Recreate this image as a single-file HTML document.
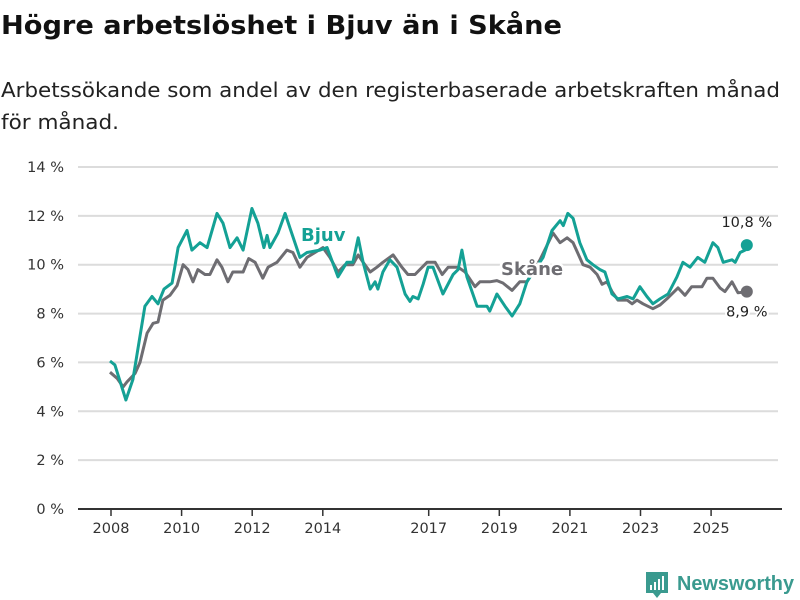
<!DOCTYPE html>
<html><head><meta charset="utf-8">
<style>
body{margin:0;width:800px;height:600px;background:#fff;font-family:"DejaVu Sans","Liberation Sans",sans-serif;overflow:hidden;position:relative}
svg{position:absolute;left:0;top:0}
</style></head><body>
<svg width="800" height="140">
<text x="1" y="34" font-size="26" font-weight="bold" fill="#111" textLength="561" lengthAdjust="spacingAndGlyphs">Högre arbetslöshet i Bjuv än i Skåne</text>
<text x="1" y="97" font-size="20" fill="#222" textLength="779" lengthAdjust="spacingAndGlyphs">Arbetssökande som andel av den registerbaserade arbetskraften månad</text>
<text x="1" y="129" font-size="20" fill="#222" textLength="118" lengthAdjust="spacingAndGlyphs">för månad.</text>
</svg>
<svg id="chart" width="800" height="600"></svg>
<script>
const yTicks=[0,2,4,6,8,10,12,14];
const xTickYears=[2008,2010,2012,2014,2017,2019,2021,2023,2025];
const bjuvDates=[2008.00,2008.14,2008.45,2008.65,2008.99,2009.19,2009.36,2009.53,2009.76,2009.93,2010.18,2010.32,2010.55,2010.75,2011.03,2011.20,2011.40,2011.60,2011.77,2012.02,2012.19,2012.36,2012.45,2012.53,2012.76,2012.96,2013.10,2013.38,2013.58,2013.95,2014.15,2014.46,2014.71,2014.88,2015.03,2015.17,2015.37,2015.51,2015.59,2015.73,2015.93,2016.13,2016.36,2016.50,2016.58,2016.73,2016.87,2017.01,2017.15,2017.43,2017.72,2017.86,2017.97,2018.11,2018.40,2018.68,2018.76,2018.96,2019.19,2019.39,2019.61,2019.81,2020.04,2020.27,2020.52,2020.75,2020.84,2020.97,2021.12,2021.31,2021.51,2021.68,2021.88,2022.02,2022.22,2022.39,2022.65,2022.82,2023.01,2023.21,2023.38,2023.58,2023.81,2024.06,2024.23,2024.43,2024.65,2024.85,2025.08,2025.22,2025.37,2025.62,2025.71,2025.85,2025.99,2026.04];
const bjuvValues=[6.06,5.9,4.46,5.3,8.3,8.7,8.4,9.0,9.25,10.7,11.4,10.6,10.9,10.7,12.1,11.7,10.7,11.1,10.6,12.3,11.7,10.7,11.2,10.7,11.3,12.1,11.5,10.3,10.5,10.6,10.7,9.5,10.1,10.1,11.1,10.1,9.0,9.3,9.0,9.7,10.2,9.9,8.8,8.5,8.7,8.6,9.2,9.9,9.9,8.8,9.6,9.8,10.6,9.5,8.3,8.3,8.1,8.8,8.3,7.9,8.4,9.3,9.8,10.3,11.4,11.8,11.6,12.1,11.9,10.9,10.2,10.0,9.8,9.7,8.8,8.6,8.7,8.6,9.1,8.7,8.4,8.6,8.8,9.5,10.1,9.9,10.3,10.1,10.9,10.7,10.1,10.2,10.1,10.5,10.6,10.8];
const skaneDates=[2008.00,2008.20,2008.37,2008.48,2008.71,2008.85,2009.05,2009.22,2009.36,2009.50,2009.70,2009.90,2010.07,2010.21,2010.35,2010.49,2010.69,2010.83,2011.03,2011.17,2011.34,2011.48,2011.77,2011.93,2012.11,2012.33,2012.48,2012.73,2013.01,2013.18,2013.38,2013.58,2014.03,2014.23,2014.46,2014.66,2014.88,2015.03,2015.17,2015.37,2015.56,2015.73,2016.02,2016.27,2016.44,2016.64,2016.98,2017.21,2017.41,2017.58,2017.86,2018.06,2018.34,2018.48,2018.76,2018.96,2019.13,2019.39,2019.61,2019.81,2020.18,2020.55,2020.75,2020.95,2021.12,2021.40,2021.60,2021.80,2021.94,2022.08,2022.22,2022.39,2022.65,2022.79,2022.93,2023.10,2023.38,2023.58,2023.81,2024.09,2024.29,2024.48,2024.77,2024.91,2025.08,2025.28,2025.42,2025.62,2025.79,2026.04];
const skaneValues=[5.6,5.35,5.0,5.2,5.55,6.0,7.2,7.6,7.65,8.55,8.75,9.15,10.0,9.8,9.3,9.8,9.6,9.6,10.2,9.9,9.3,9.7,9.7,10.25,10.1,9.45,9.9,10.1,10.6,10.5,9.9,10.3,10.7,10.3,9.7,10.0,10.0,10.4,10.1,9.7,9.9,10.1,10.4,9.9,9.6,9.6,10.1,10.1,9.6,9.9,9.9,9.7,9.1,9.3,9.3,9.35,9.25,8.95,9.3,9.3,10.2,11.3,10.9,11.1,10.9,10.0,9.9,9.6,9.2,9.3,8.9,8.55,8.55,8.4,8.55,8.4,8.2,8.35,8.65,9.05,8.75,9.1,9.1,9.45,9.45,9.05,8.9,9.3,8.85,8.9];

const svg=document.getElementById('chart');
const NS='http://www.w3.org/2000/svg';
const X0=78,X1=778,Y0=509,Y1=167;
function xs(yr){return 110+(yr-2008)*35.3;}
function ys(v){return Y0-(v-0)/(14-0)*(Y0-Y1);}
function mk(tag,attrs,parent){const e=document.createElementNS(NS,tag);for(const k in attrs)e.setAttribute(k,attrs[k]);(parent||svg).appendChild(e);return e;}

yTicks.forEach(t=>{
  if(t>0){
    const g=mk('line',{x1:X0,x2:X1,y1:ys(t),y2:ys(t),stroke:'#dcdcdc','stroke-width':2});
    
    
  }
  const tx=mk('text',{x:64,y:ys(t)+5,'text-anchor':'end','font-size':14.5,fill:'#333'});
  tx.textContent=t+' %';
  
  
});
const ax=mk('line',{x1:X0,x2:782,y1:Y0,y2:Y0,stroke:'#333','stroke-width':2});


xTickYears.forEach(yr=>{
  const tk=mk('line',{x1:xs(yr)+1,x2:xs(yr)+1,y1:Y0,y2:Y0+7,stroke:'#333','stroke-width':1.5});
  
  
  const tx=mk('text',{x:xs(yr)+1,y:533,'text-anchor':'middle','font-size':14.5,fill:'#333'});
  tx.textContent=yr;
  
  
});
function path(d,v){return d.map((t,i)=>(i?'L':'M')+xs(t).toFixed(1)+','+ys(v[i]).toFixed(1)).join('');}
const sk=mk('path',{d:path(skaneDates,skaneValues),fill:'none',stroke:'#6e6d72','stroke-width':3,'stroke-linejoin':'round'});


const bj=mk('path',{d:path(bjuvDates,bjuvValues),fill:'none',stroke:'#14a195','stroke-width':3,'stroke-linejoin':'round'});


const lb=bjuvDates.length-1, ls=skaneDates.length-1;
const d1=mk('circle',{cx:xs(bjuvDates[lb]),cy:ys(bjuvValues[lb]),r:6,fill:'#14a195'});


const d2=mk('circle',{cx:xs(skaneDates[ls]),cy:ys(skaneValues[ls]),r:6,fill:'#6e6d72'});


const v1=mk('text',{x:xs(bjuvDates[lb]),y:ys(bjuvValues[lb])-18,'text-anchor':'middle','font-size':14.5,fill:'#222'});
v1.textContent=bjuvValues[lb].toFixed(1).replace('.',',')+' %';


const v2=mk('text',{x:xs(skaneDates[ls]),y:ys(skaneValues[ls])+25,'text-anchor':'middle','font-size':14.5,fill:'#222',stroke:'#fff','stroke-width':4,'paint-order':'stroke'});
v2.textContent=skaneValues[ls].toFixed(1).replace('.',',')+' %';


const l1=mk('text',{x:301,y:241,'font-size':18,'font-weight':'bold',fill:'#14a195',stroke:'#fff','stroke-width':5,'paint-order':'stroke'});
l1.textContent='Bjuv';


const l2=mk('text',{x:501,y:275,'font-size':18,'font-weight':'bold',fill:'#6e6d72',stroke:'#fff','stroke-width':5,'paint-order':'stroke'});
l2.textContent='Skåne';


</script>
<svg width="800" height="600" style="position:absolute;left:0;top:0">
<path d="M646 572h22v21h-7l-4 5-4-5h-7z" fill="#3a9a8f"/>
<rect x="650" y="585" width="2" height="5" fill="#fff"/><rect x="654" y="582" width="2" height="8" fill="#fff"/><rect x="658" y="579" width="2" height="11" fill="#fff"/><rect x="662" y="576" width="2" height="14" fill="#fff"/>
<text x="677" y="590" font-size="20" fill="#3a9a8f" font-weight="bold" textLength="117" lengthAdjust="spacingAndGlyphs" font-family="Liberation Sans, sans-serif">Newsworthy</text>
</svg>
</body></html>
